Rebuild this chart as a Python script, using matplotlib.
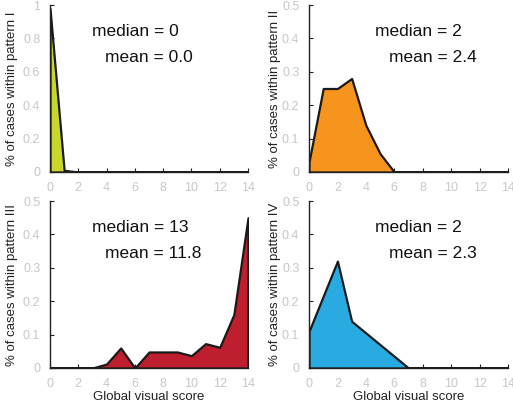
import matplotlib
matplotlib.use("Agg")
import matplotlib.pyplot as plt
import numpy as np

plt.rcParams['font.family'] = ['Liberation Sans', 'DejaVu Sans']

scores = list(range(15))
pattern_I = [0.98, 0.01, 0, 0, 0, 0, 0, 0, 0, 0, 0, 0, 0, 0, 0]
pattern_II = [0.03, 0.25, 0.25, 0.28, 0.14, 0.055, 0, 0, 0, 0, 0, 0, 0, 0, 0]
pattern_III = [0, 0, 0, 0, 0.012, 0.06, 0, 0.048, 0.048, 0.048, 0.037, 0.073, 0.062, 0.16, 0.45]
pattern_IV = [0.11, 0.215, 0.32, 0.14, 0.105, 0.07, 0.035, 0, 0, 0, 0, 0, 0, 0, 0]

series = [pattern_I, pattern_II, pattern_III, pattern_IV]
names = ['I', 'II', 'III', 'IV']
medians = ['0', '2', '13', '2']
means = ['0.0', '2.4', '11.8', '2.3']
colors = ['#c9d72b', '#f7941e', '#be1e2d', '#29abe2']
ymaxes = [1.0, 0.5, 0.5, 0.5]
xticks = [0, 2, 4, 6, 8, 10, 12, 14]

W, H = 513, 400
fig = plt.figure(figsize=(W / 100, H / 100), dpi=100)

# axes rectangles in pixels: left, top, right, bottom
rects = [(50, 5, 248, 172), (309, 5, 508, 172),
         (50, 201, 248, 368), (309, 201, 508, 368)]
text_x = [0.21, 0.33, 0.21, 0.33]
mean_x = [0.28, 0.40, 0.28, 0.40]

tick_gray = '#c8c8c8'
for i in range(4):
    l, t, r, b = rects[i]
    ax = fig.add_axes([l / W, 1 - b / H, (r - l) / W, (b - t) / H])
    y = series[i]
    ax.fill_between(scores, y, 0, facecolor=colors[i], edgecolor='#1a1a1a', linewidth=1.6, zorder=2)
    ax.set_xlim(0, 14)
    ax.set_ylim(0, ymaxes[i])
    for s in ['top', 'right']:
        ax.spines[s].set_visible(False)
    for s in ['left', 'bottom']:
        ax.spines[s].set_linewidth(1.0)
        ax.spines[s].set_color('#222222')
    ax.set_xticks(xticks)
    ax.set_xticklabels([str(v) for v in xticks])
    if ymaxes[i] == 1.0:
        yt = [0, 0.2, 0.4, 0.6, 0.8, 1.0]
        ylab = ['0', '0.2', '0.4', '0.6', '0.8', '1']
    else:
        yt = [0, 0.1, 0.2, 0.3, 0.4, 0.5]
        ylab = ['0', '0.1', '0.2', '0.3', '0.4', '0.5']
    ax.set_yticks(yt)
    ax.set_yticklabels(ylab)
    ax.tick_params(direction='in', length=3, width=0.8, colors='#222222',
                   labelcolor=tick_gray, labelsize=9, pad=7)
    ax.set_ylabel('% of cases within pattern ' + names[i], fontsize=9.5, color='#222222')
    ax.yaxis.set_label_coords(-32 / (r - l) if i % 2 == 0 else -28 / (r - l), 0.5)
    if i >= 2:
        ax.set_xlabel('Global visual score', fontsize=9.5, color='#222222', labelpad=1)
    ax.text(text_x[i], 0.84, 'median = ' + medians[i], transform=ax.transAxes,
            fontsize=12.5, color='#111111', ha='left', va='center')
    ax.text(mean_x[i], 0.685, 'mean = ' + means[i], transform=ax.transAxes,
            fontsize=12.5, color='#111111', ha='left', va='center')

fig.savefig('out.png', dpi=100)
